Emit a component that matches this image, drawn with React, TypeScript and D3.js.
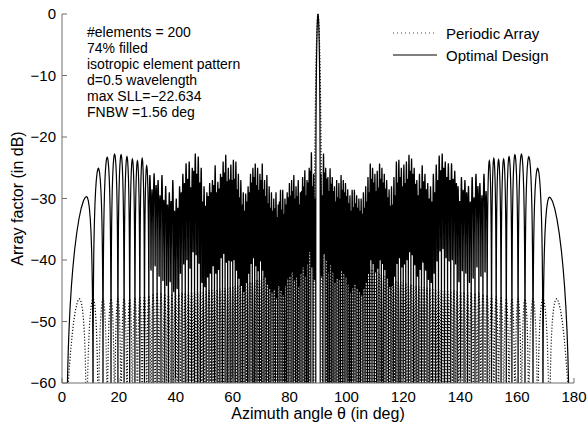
import React from "react";
import * as d3 from "d3";

const WIDTH = 587;
const HEIGHT = 427;
const plot = { left: 62, right: 574, top: 14, bottom: 383 };

const xDomain: [number, number] = [0, 180];
const yDomain: [number, number] = [-60, 0];
const xTickValues = [0, 20, 40, 60, 80, 100, 120, 140, 160, 180];
const yTickValues = [0, -10, -20, -30, -40, -50, -60];

const xLabel = "Azimuth angle \u03b8 (in deg)";
const yLabel = "Array factor (in dB)";
const seriesNames = ["Periodic Array", "Optimal Design"];
const annotationLines = [
  "#elements = 200",
  "74% filled",
  "isotropic element pattern",
  "d=0.5 wavelength",
  "max SLL=\u221222.634",
  "FNBW =1.56 deg",
];

// lobe grid (in u = cos(theta))
const lobeSpacingU = 0.0134;
const optimalMainNullDeg = 0.78;
const optimalEdgeNullDeg = 1.5;
const periodicMainNullDeg = 1.6;
const firstClusteredLobe = 11;
const clusterDipDepthDb = 13;

// Optimal design: side-lobe peak levels (dB), lobe 1 nearest the end (0 / 180 deg) toward broadside
const optimalLeftPeaksDb = [
  -29.7, -25.1, -23.3, -22.8, -22.9, -23.2, -23.6, -23.9, -23.5, -24.7,
  -26.2, -25.9, -27.0, -26.2, -28.0, -29.0, -27.0, -30.0, -28.0, -26.0,
  -24.3, -24.0, -25.0, -22.7, -23.2, -25.0, -28.0, -29.0, -27.5, -27.0,
  -24.6, -27.3, -26.0, -24.0, -22.9, -25.0, -24.5, -23.7, -24.0, -26.0,
  -27.0, -29.0, -29.2, -28.0, -26.0, -25.0, -24.3, -25.0, -26.0, -24.3,
  -27.0, -26.2, -28.0, -29.0, -30.0, -29.0, -31.0, -28.6, -28.6, -30.0,
  -29.0, -27.5, -27.0, -26.2, -28.0, -27.0, -29.0, -26.5, -25.4, -27.0,
  -25.0, -22.5, -26.0,
];
// secondary (minor) peak inside each clustered lobe, from lobe 11 on
const optimalLeftMinorPeaksDb = [
  -28.5, -27.8, -29.5, -30.2, -31.0, -30.4, -32.0, -31.5, -29.0, -27.5,
  -26.8, -28.2, -25.5, -26.0, -27.4, -30.5, -31.2, -29.6, -29.0, -27.8,
  -29.0, -28.4, -26.5, -25.8, -27.2, -26.9, -27.0, -26.8, -28.5, -29.8,
  -31.0, -32.0, -30.5, -29.0, -27.4, -26.5, -27.8, -28.6, -27.0, -28.5,
  -29.6, -30.8, -31.5, -32.0, -31.6, -33.0, -30.5, -31.8, -32.5, -31.0,
  -29.8, -29.5, -28.8, -30.0, -29.6, -31.0, -28.8, -28.0, -29.5, -27.4,
  -25.5, -28.0, -30.0,
];
const optimalRightPeaksDb = [
  -29.8, -25.1, -23.2, -22.8, -22.9, -23.2, -23.6, -23.7, -23.5, -23.9,
  -26.0, -27.5, -26.0, -26.5, -28.0, -27.0, -26.5, -28.0, -25.5, -24.3,
  -24.3, -24.0, -22.7, -23.0, -24.5, -26.0, -28.0, -27.5, -26.0, -24.6,
  -26.0, -27.0, -25.0, -23.5, -22.9, -24.0, -24.5, -25.0, -23.7, -24.0,
  -26.5, -28.0, -28.5, -27.0, -26.0, -25.0, -24.3, -25.5, -26.0, -25.0,
  -24.3, -26.5, -28.0, -29.0, -30.0, -30.0, -29.5, -28.6, -28.6, -29.5,
  -28.5, -27.5, -27.0, -26.2, -27.5, -27.0, -28.0, -26.5, -25.1, -26.5,
  -25.0, -22.7, -26.0,
];
const optimalRightMinorPeaksDb = [
  -28.8, -29.5, -28.0, -29.8, -30.5, -29.0, -28.6, -30.4, -27.5, -26.8,
  -27.0, -26.5, -25.0, -25.4, -27.0, -29.0, -30.5, -30.0, -28.5, -27.2,
  -28.4, -29.5, -27.6, -26.0, -25.5, -26.8, -27.5, -28.0, -26.5, -27.4,
  -29.5, -31.0, -31.2, -29.8, -28.4, -27.4, -26.8, -28.2, -28.8, -27.4,
  -26.8, -29.0, -30.5, -31.5, -32.5, -32.0, -31.5, -30.8, -31.4, -32.0,
  -30.8, -29.6, -29.0, -28.6, -30.0, -29.8, -30.5, -28.8, -27.6, -28.8,
  -26.8, -25.8, -29.5,
];

// Periodic array: side-lobe peak levels (dB)
const periodicLeftPeaksDb = [
  -46.3, -46.3, -46.3, -46.3, -46.3, -46.3, -46.3, -46.3,
  -46.0, -45.9, -45.8, -45.7, -45.6, -45.6, -45.5, -45.5, -45.5, -45.4,
  -45.4, -45.3, -45.3, -45.3, -45.2, -45.2, -45.1, -45.1, -45.0,
  -45.0, -44.9, -44.9, -44.8, -44.8, -44.7, -44.6, -44.6, -44.5, -44.4,
  -44.3, -44.2, -44.1, -44.0, -43.9, -43.8, -43.7, -43.6, -43.5, -43.3, -43.2, -43.0,
  -42.8, -42.6, -42.4, -42.1, -41.8, -41.5, -41.2,
  -40.8, -40.4, -40.0, -39.5,
  -39.0, -38.5, -38.0, -37.5,
  -37.0, -36.4, -35.8, -35.2,
  -34.5, -33.5, -32.5, -31.0,
];
const periodicRightPeaksDb = [
  -46.3, -46.3, -46.3, -46.3, -46.3, -46.3, -46.3, -46.2,
  -46.0, -45.8, -45.7, -45.6, -45.5, -45.4, -45.3, -45.3, -45.2, -45.1,
  -45.1, -45.0, -45.0, -44.9, -44.9, -44.8, -44.8, -44.7, -44.6,
  -44.6, -44.5, -44.4, -44.4, -44.3, -44.2, -44.1, -44.0, -43.9, -43.8,
  -43.7, -43.6, -43.5, -43.3, -43.2, -43.0, -42.8, -42.6, -42.5, -42.3, -42.1, -41.9,
  -41.7, -41.5, -41.2, -41.0, -40.7, -40.4, -40.1,
  -39.8, -39.4, -39.0, -38.6,
  -38.2, -37.8, -37.3, -36.8,
  -36.3, -35.8, -35.2, -34.6,
  -34.0, -33.2, -32.3, -31.0,
];

type Lobe = { uStart: number; uPeak: number; uEnd: number; db: number; minorDb?: number };
type Pt = [number, number];

const deg = (r: number) => (r * 180) / Math.PI;
const rad = (d: number) => (d * Math.PI) / 180;
const amp = (db: number) => Math.pow(10, db / 20);

const tSamples = [
  0, 0.0008, 0.002, 0.004, 0.007, 0.011, 0.017, 0.026, 0.04, 0.06, 0.085, 0.12,
  0.17, 0.23, 0.3, 0.38, 0.45, 0.5, 0.55, 0.62, 0.7, 0.77, 0.83, 0.88, 0.915,
  0.94, 0.96, 0.974, 0.983, 0.989, 0.993, 0.996, 0.998, 0.9992, 1,
];
const tClustered = [
  ...tSamples.map((t) => t * 0.5),
  ...tSamples.slice(1).map((t) => 0.5 + t * 0.5),
];

function lobeAmplitude(l: Lobe, t: number): number {
  if (l.minorDb === undefined) return amp(l.db) * Math.sin(Math.PI * t);
  const a1 = t < 0.5 ? amp(l.db) * Math.sin(2 * Math.PI * t) : 0;
  const a2 = t >= 0.5 ? amp(l.minorDb) * Math.sin(2 * Math.PI * (t - 0.5)) : 0;
  const dipDb = Math.min(l.db, l.minorDb) - clusterDipDepthDb;
  const a3 = amp(dipDb) * Math.pow(Math.sin(Math.PI * t), 6);
  return Math.max(a1, a2, a3);
}

function lobePoints(l: Lobe): Pt[] {
  const ts = l.minorDb === undefined ? tSamples : tClustered;
  return ts.map((t) => {
    const u =
      t <= 0.5
        ? l.uStart + (l.uPeak - l.uStart) * (t / 0.5)
        : l.uPeak + (l.uEnd - l.uPeak) * ((t - 0.5) / 0.5);
    const a = Math.max(lobeAmplitude(l, t), 1e-5);
    return [deg(Math.acos(Math.max(-1, Math.min(1, u)))), 20 * Math.log10(a)] as Pt;
  });
}

function optimalLeftLobes(peaks: number[], minors: number[]): Lobe[] {
  const mainU = Math.sin(rad(optimalMainNullDeg));
  return peaks.map((db, i) => {
    const k = i + 1;
    const uStart = k === 1 ? Math.cos(rad(optimalEdgeNullDeg)) : 1 - lobeSpacingU * (k - 0.65);
    const uEnd = k === peaks.length ? mainU : 1 - lobeSpacingU * (k + 0.35);
    const uPeak = k >= firstClusteredLobe ? (uStart + uEnd) / 2 : 1 - lobeSpacingU * (k - 0.15);
    const minorDb = k >= firstClusteredLobe ? minors[k - firstClusteredLobe] : undefined;
    return { uStart, uPeak, uEnd, db, minorDb };
  });
}

function periodicLeftLobes(peaks: number[]): Lobe[] {
  const mainU = Math.sin(rad(periodicMainNullDeg));
  return peaks.map((db, i) => {
    const k = i + 1;
    const uStart = k === 1 ? 1 : 1 - lobeSpacingU * (k - 1.15);
    const uEnd = k === peaks.length ? mainU : 1 - lobeSpacingU * (k - 0.15);
    return { uStart, uPeak: (uStart + uEnd) / 2, uEnd, db };
  });
}

function mirror(lobes: Lobe[]): Lobe[] {
  return lobes
    .map((l) => ({ uStart: -l.uEnd, uPeak: -l.uPeak, uEnd: -l.uStart, db: l.db, minorDb: l.minorDb }))
    .reverse();
}

function mainBeam(nullDeg: number, shape: (x: number) => number): Pt[] {
  const W = Math.sin(rad(nullDeg));
  return tSamples.map((t) => {
    const x = 1 - 2 * t;
    return [deg(Math.acos(x * W)), shape(x)] as Pt;
  });
}

const sincDb = (x: number) => {
  if (Math.abs(x) < 1e-9) return 0;
  const v = Math.abs(Math.sin(Math.PI * x) / (Math.PI * x));
  return 20 * Math.log10(Math.max(v, 1e-5));
};
const taperedDb = (x: number) => 70 * Math.log10(Math.max(Math.cos((Math.PI * x) / 2), 1e-5));

function buildSeries(left: Lobe[], right: Lobe[], beam: Pt[]): Pt[] {
  const pts: Pt[] = [];
  left.forEach((l) => pts.push(...lobePoints(l)));
  pts.push(...beam);
  right.forEach((l) => pts.push(...lobePoints(l)));
  return pts;
}

export default function App() {
  const x = d3.scaleLinear().domain(xDomain).range([plot.left, plot.right]);
  const y = d3.scaleLinear().domain(yDomain).range([plot.bottom, plot.top]);

  const optimalPts = buildSeries(
    optimalLeftLobes(optimalLeftPeaksDb, optimalLeftMinorPeaksDb),
    mirror(optimalLeftLobes(optimalRightPeaksDb, optimalRightMinorPeaksDb)),
    mainBeam(optimalMainNullDeg, sincDb)
  );
  const periodicPts = buildSeries(
    periodicLeftLobes(periodicLeftPeaksDb),
    mirror(periodicLeftLobes(periodicRightPeaksDb)),
    mainBeam(periodicMainNullDeg, taperedDb)
  );

  const line = d3
    .line<Pt>()
    .x((d) => x(d[0]))
    .y((d) => y(Math.max(d[1], -70)));

  const font = "'Liberation Sans', Arial, Helvetica, sans-serif";
  const axisColor = "#6e6e6e";

  return (
    <svg
      width={WIDTH}
      height={HEIGHT}
      style={{ position: "absolute", left: 0, top: 0, background: "#fff" }}
      fontFamily={font}
    >
      <defs>
        <clipPath id="plotClip">
          <rect x={plot.left} y={plot.top - 2} width={plot.right - plot.left} height={plot.bottom - plot.top + 2} />
        </clipPath>
      </defs>
      <g clipPath="url(#plotClip)">
        <path d={line(periodicPts) || ""} fill="none" stroke="#111" strokeWidth={1.2} strokeDasharray="1.2 1.8" />
        <path d={line(optimalPts) || ""} fill="none" stroke="#000" strokeWidth={1.2} />
      </g>

      {/* axes */}
      <line x1={plot.left} x2={plot.left} y1={plot.top} y2={plot.bottom} stroke={axisColor} strokeWidth={1} />
      <line x1={plot.left} x2={plot.right} y1={plot.bottom} y2={plot.bottom} stroke={axisColor} strokeWidth={1} />
      {yTickValues.map((v) => (
        <g key={"y" + v}>
          <line x1={plot.left} x2={plot.left + 5} y1={y(v)} y2={y(v)} stroke={axisColor} />
          <text x={plot.left - 6} y={y(v) + 5} textAnchor="end" fontSize={15} fill="#000">
            {v === 0 ? "0" : "\u2212" + Math.abs(v)}
          </text>
        </g>
      ))}
      {xTickValues.map((v) => (
        <g key={"x" + v}>
          <line x1={x(v)} x2={x(v)} y1={plot.bottom} y2={plot.bottom - 5} stroke={axisColor} />
          <text x={x(v)} y={plot.bottom + 19} textAnchor="middle" fontSize={15} fill="#000">
            {v}
          </text>
        </g>
      ))}
      <text x={(plot.left + plot.right) / 2} y={419} textAnchor="middle" fontSize={16} fill="#000">
        {xLabel}
      </text>
      <text
        transform={`translate(23, ${(plot.top + plot.bottom) / 2}) rotate(-90)`}
        textAnchor="middle"
        fontSize={16}
        fill="#000"
      >
        {yLabel}
      </text>

      {/* annotation */}
      {annotationLines.map((s, i) => (
        <text key={s} x={87} y={37 + i * 16} fontSize={14} fill="#000">
          {s}
        </text>
      ))}

      {/* legend */}
      <line x1={393} x2={437} y1={33} y2={33} stroke="#444" strokeWidth={1} strokeDasharray="1 3" />
      <text x={446} y={38.5} fontSize={15} fill="#000">
        {seriesNames[0]}
      </text>
      <line x1={393} x2={437} y1={55} y2={55} stroke="#000" strokeWidth={1.2} />
      <text x={446} y={60.5} fontSize={15} fill="#000">
        {seriesNames[1]}
      </text>
    </svg>
  );
}
